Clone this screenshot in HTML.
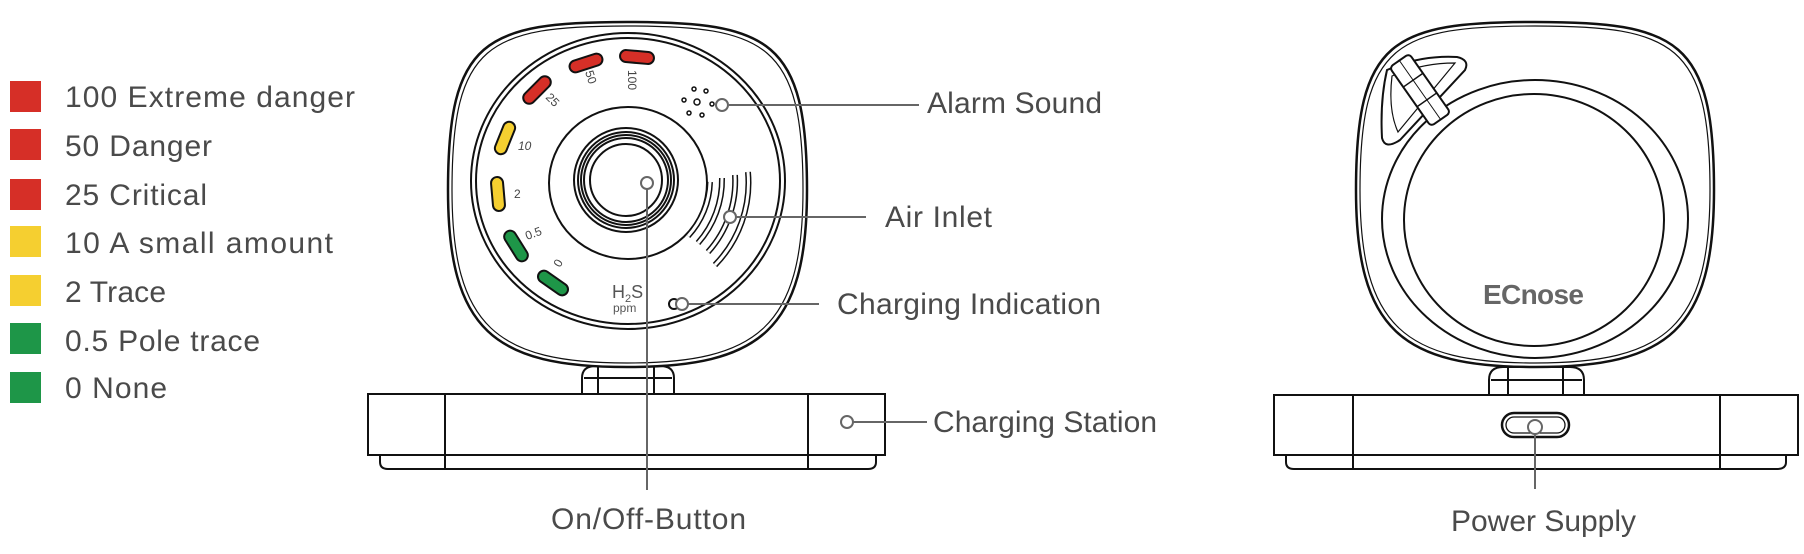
<!DOCTYPE html>
<html><head><meta charset="utf-8"><style>
html,body{margin:0;padding:0;background:#fff;}
svg{display:block}
.t{font-family:"Liberation Sans",sans-serif;fill:#4a4a4a;font-size:30px;}
.ln{stroke:#666;stroke-width:2;fill:none}
.dot{stroke:#666;stroke-width:2;fill:#fff}
.k{stroke:#111;fill:none;stroke-width:2}
.s{font-family:"Liberation Sans",sans-serif;fill:#444;font-size:12px;}
</style></head><body>
<svg width="1804" height="554" viewBox="0 0 1804 554" xmlns="http://www.w3.org/2000/svg">
<!-- legend -->
<g>
<rect x="10" y="81" width="31" height="31" fill="#d62f27"/>
<rect x="10" y="129" width="31" height="31" fill="#d62f27"/>
<rect x="10" y="179" width="31" height="31" fill="#d62f27"/>
<rect x="10" y="226" width="31" height="31" fill="#f5cf30"/>
<rect x="10" y="275" width="31" height="31" fill="#f5cf30"/>
<rect x="10" y="323" width="31" height="31" fill="#1e9648"/>
<rect x="10" y="372" width="31" height="31" fill="#1e9648"/>
<text class="t" x="65" y="107" textLength="290" font-size="32">100 Extreme danger</text>
<text class="t" x="65" y="156" textLength="147" font-size="32">50 Danger</text>
<text class="t" x="65" y="205" textLength="142" font-size="32">25 Critical</text>
<text class="t" x="65" y="253" textLength="268" font-size="32">10 A small amount</text>
<text class="t" x="65" y="302" textLength="101" font-size="32">2 Trace</text>
<text class="t" x="65" y="351" textLength="195" font-size="32">0.5 Pole trace</text>
<text class="t" x="65" y="398" textLength="102" font-size="32">0 None</text>
</g>

<!-- FRONT DEVICE -->
<g>
<path class="k" d="M582 394 V378 Q582 366 596 366 H660 Q674 366 674 378 V394"/>
<line class="k" x1="598" y1="366" x2="598" y2="394"/><line class="k" x1="654" y1="366" x2="654" y2="394"/>
<line class="k" x1="584" y1="378" x2="672" y2="378"/>
<path class="k" d="M380 455 V462 Q380 469 388 469 H868 Q876 469 876 462 V455"/>
<rect class="k" x="368" y="394" width="517" height="61" fill="#fff"/>
<line class="k" x1="445" y1="394" x2="445" y2="469"/><line class="k" x1="808" y1="394" x2="808" y2="469"/>
<!-- body -->
<path d="M627 22 C770 22 807 40 807 190 C807 330 760 367 627 367 C494 367 448 330 448 190 C448 40 484 22 627 22 Z" fill="#fff" stroke="#111" stroke-width="2.5"/>
<path d="M627 26 C766 26 803 44 803 190 C803 327 757 363 627 363 C497 363 452 327 452 190 C452 44 488 26 627 26 Z" fill="none" stroke="#111" stroke-width="1.2"/>
<ellipse cx="628" cy="181" rx="157" ry="148" class="k"/>
<ellipse cx="628" cy="181" rx="152" ry="143" class="k" stroke-width="1.3"/>
<ellipse cx="628" cy="183" rx="79" ry="76" class="k"/>
<circle cx="626" cy="180" r="52" class="k"/>
<circle cx="626" cy="180" r="48" class="k" stroke-width="1.3"/>
<circle cx="626" cy="180" r="45" class="k" stroke-width="1.3"/>
<circle cx="626" cy="180" r="42" class="k" stroke-width="1.3"/>
<circle cx="626" cy="180" r="36" class="k"/>
<g stroke="#111" stroke-width="2">
<rect x="-17" y="-6" width="34" height="12" rx="6" fill="#d62f27" transform="translate(637 57) rotate(5)"/>
<rect x="-17" y="-6" width="34" height="12" rx="6" fill="#d62f27" transform="translate(586 63) rotate(-18)"/>
<rect x="-17" y="-6" width="34" height="12" rx="6" fill="#d62f27" transform="translate(537 90) rotate(-45)"/>
<rect x="-17" y="-6" width="34" height="12" rx="6" fill="#f5cf30" transform="translate(505 138) rotate(-68)"/>
<rect x="-17" y="-6" width="34" height="12" rx="6" fill="#f5cf30" transform="translate(498 194) rotate(85)"/>
<rect x="-17" y="-6" width="34" height="12" rx="6" fill="#1e9648" transform="translate(516 246) rotate(58)"/>
<rect x="-17" y="-6" width="34" height="12" rx="6" fill="#1e9648" transform="translate(553 283) rotate(35)"/>
</g>
<text class="s" transform="translate(628 70) rotate(90)">100</text>
<text class="s" transform="translate(585 72) rotate(72)">50</text>
<text class="s" transform="translate(545 98) rotate(45)">25</text>
<text class="s" x="518" y="150" font-style="italic">10</text>
<text class="s" x="514" y="198">2</text>
<text class="s" transform="translate(527 240) rotate(-20)">0.5</text>
<text class="s" transform="translate(560 268) rotate(-60)">0</text>
<text x="612" y="298" font-family="Liberation Sans,sans-serif" font-size="18" fill="#555">H<tspan font-size="11" dy="4">2</tspan><tspan dy="-4">S</tspan></text>
<text x="613" y="312" font-family="Liberation Sans,sans-serif" font-size="12" fill="#555">ppm</text>
<g fill="none" stroke="#111" stroke-width="1.5">
<circle cx="694" cy="89" r="2"/><circle cx="706" cy="91" r="2"/><circle cx="684" cy="100" r="2"/>
<circle cx="697" cy="102" r="3"/><circle cx="712" cy="104" r="2"/><circle cx="689" cy="113" r="2"/><circle cx="702" cy="115" r="2"/>
</g>
<g fill="none" stroke-linecap="butt">
<path d="M748 172 A118 118 0 0 1 715 265" stroke="#111" stroke-width="6"/>
<path d="M748 172 A118 118 0 0 1 715 265" stroke="#fff" stroke-width="3"/>
<path d="M735 175 A106 106 0 0 1 708 252" stroke="#111" stroke-width="6"/>
<path d="M735 175 A106 106 0 0 1 708 252" stroke="#fff" stroke-width="3"/>
<path d="M722 178 A95 95 0 0 1 698 243" stroke="#111" stroke-width="6"/>
<path d="M722 178 A95 95 0 0 1 698 243" stroke="#fff" stroke-width="3"/>
<path d="M710 182 A83 83 0 0 1 688 236" stroke="#111" stroke-width="6"/>
<path d="M710 182 A83 83 0 0 1 688 236" stroke="#fff" stroke-width="3"/>
</g>
<circle cx="674" cy="304" r="5" class="k"/>
<line class="ln" x1="729" y1="105" x2="919" y2="105"/><circle class="dot" cx="722" cy="105" r="6"/>
<line class="ln" x1="736" y1="217" x2="866" y2="217"/><circle class="dot" cx="730" cy="217" r="6"/>
<line class="ln" x1="688" y1="304" x2="819" y2="304"/><circle class="dot" cx="682" cy="304" r="6"/>
<line class="ln" x1="853" y1="422" x2="927" y2="422"/><circle class="dot" cx="847" cy="422" r="6"/>
<line class="ln" x1="647" y1="187" x2="647" y2="490"/><circle class="dot" cx="647" cy="183" r="6"/>
<text class="t" x="927" y="113" textLength="175">Alarm Sound</text>
<text class="t" x="885" y="227" textLength="107">Air Inlet</text>
<text class="t" x="837" y="314" textLength="264">Charging Indication</text>
<text class="t" x="933" y="432" textLength="224">Charging Station</text>
<text class="t" x="551" y="529" textLength="195">On/Off-Button</text>
</g>

<!-- BACK DEVICE -->
<g>
<path class="k" d="M1489 395 V380 Q1489 367 1503 367 H1570 Q1584 367 1584 380 V395"/>
<line class="k" x1="1508" y1="367" x2="1508" y2="395"/><line class="k" x1="1563" y1="367" x2="1563" y2="395"/>
<line class="k" x1="1491" y1="380" x2="1582" y2="380"/>
<path class="k" d="M1286 455 V462 Q1286 469 1294 469 H1777 Q1786 469 1786 462 V455"/>
<rect class="k" x="1274" y="395" width="524" height="60" fill="#fff"/>
<line class="k" x1="1353" y1="395" x2="1353" y2="469"/><line class="k" x1="1720" y1="395" x2="1720" y2="469"/>
<rect x="1502" y="413" width="67" height="24" rx="12" fill="#fff" stroke="#111" stroke-width="2.5"/>
<rect x="1506" y="417" width="59" height="16" rx="8" fill="none" stroke="#111" stroke-width="1.3"/>
<path d="M1535 22 C1678 22 1714 40 1714 190 C1714 330 1668 367 1535 367 C1402 367 1356 330 1356 190 C1356 40 1392 22 1535 22 Z" fill="#fff" stroke="#111" stroke-width="2.5"/>
<path d="M1535 26 C1674 26 1710 44 1710 190 C1710 327 1665 363 1535 363 C1405 363 1360 327 1360 190 C1360 44 1396 26 1535 26 Z" fill="none" stroke="#111" stroke-width="1.2"/>
<ellipse cx="1535" cy="219" rx="153" ry="139" class="k"/>
<ellipse cx="1534" cy="220" rx="130" ry="126" class="k"/>
<path d="M1387 70 Q1420 55 1457 57 Q1470 60 1465 70 L1400 140 Q1385 150 1382 138 Q1380 100 1387 70 Z" fill="#fff" stroke="#111" stroke-width="2"/>
<path d="M1392 76 Q1422 63 1455 63 L1398 132 Q1388 110 1392 76 Z" fill="none" stroke="#111" stroke-width="1.2"/>
<g transform="translate(1420 90) rotate(-35)">
<rect x="-12" y="-36" width="24" height="72" rx="4" fill="#fff" stroke="#111" stroke-width="2"/>
<line x1="-12" y1="-12" x2="12" y2="-12" stroke="#111" stroke-width="1.5"/>
<line x1="-12" y1="12" x2="12" y2="12" stroke="#111" stroke-width="1.5"/>
<line x1="0" y1="-36" x2="0" y2="36" stroke="#111" stroke-width="1"/>
</g>
<text x="1533" y="304" text-anchor="middle" font-family="Liberation Sans,sans-serif" font-weight="bold" font-size="28" fill="#666" textLength="100" letter-spacing="-1">ECnose</text>
<line class="ln" x1="1535" y1="434" x2="1535" y2="489"/><circle class="dot" cx="1535" cy="427" r="7"/>
<text class="t" x="1451" y="531" textLength="185">Power Supply</text>
</g>
</svg>
</body></html>
